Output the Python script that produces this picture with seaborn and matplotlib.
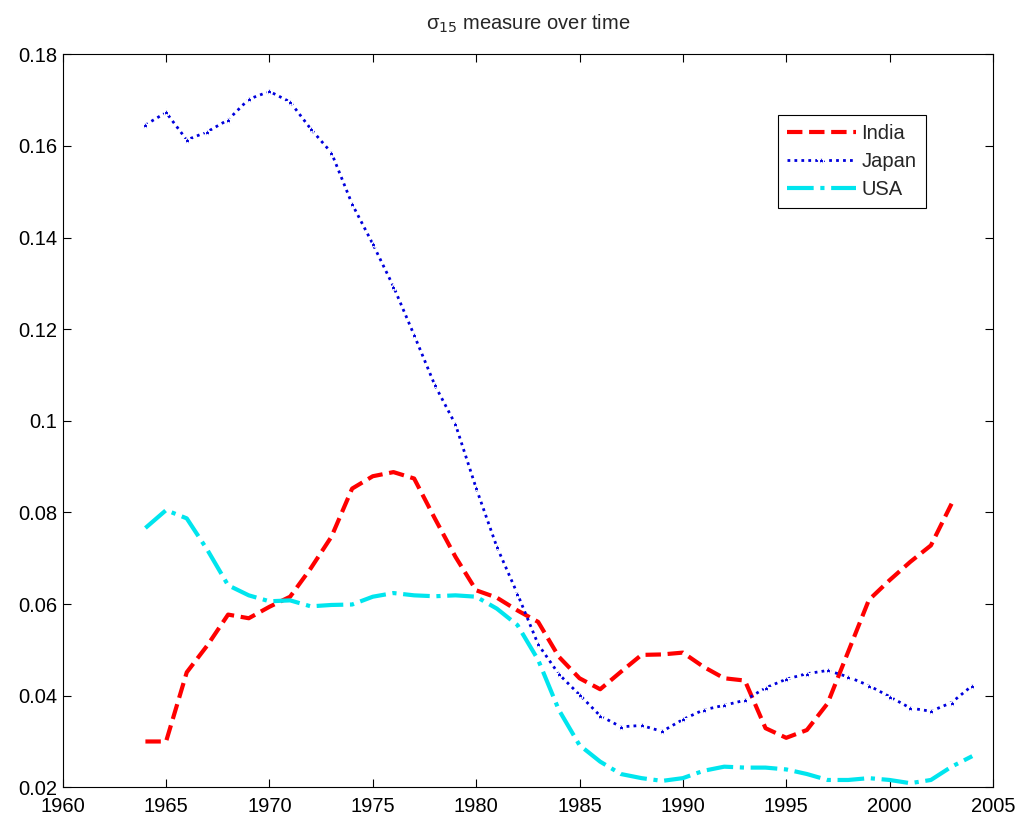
import numpy as np
import pandas as pd
import matplotlib
matplotlib.use("Agg")
import matplotlib.pyplot as plt
import seaborn as sns

# yearly values
years = list(range(1964, 2005))
india = [0.0300, 0.0300, 0.0451, 0.0510, 0.0577, 0.0569, 0.0594, 0.0616, 0.0678, 0.0747,
         0.0852, 0.0879, 0.0888, 0.0874, 0.0787, 0.0703, 0.0630, 0.0614, 0.0586, 0.0561,
         0.0485, 0.0438, 0.0414, 0.0452, 0.0489, 0.0490, 0.0494, 0.0463, 0.0438, 0.0433,
         0.0329, 0.0308, 0.0325, 0.0383, 0.0496, 0.0609, 0.0652, 0.0692, 0.0728, 0.0819]
japan = [0.1646, 0.1673, 0.1613, 0.1631, 0.1657, 0.1702, 0.1719, 0.1696, 0.1637, 0.1585,
         0.1473, 0.1386, 0.1293, 0.1187, 0.1078, 0.0992, 0.0853, 0.0725, 0.0622, 0.0512,
         0.0447, 0.0402, 0.0356, 0.0332, 0.0335, 0.0322, 0.0348, 0.0369, 0.0379, 0.0390,
         0.0417, 0.0436, 0.0448, 0.0455, 0.0441, 0.0422, 0.0398, 0.0373, 0.0366, 0.0385,
         0.0422]
usa = [0.0766, 0.0805, 0.0787, 0.0718, 0.0641, 0.0619, 0.0606, 0.0608, 0.0595, 0.0598,
       0.0599, 0.0616, 0.0624, 0.0619, 0.0617, 0.0619, 0.0616, 0.0590, 0.0554, 0.0478,
       0.0369, 0.0292, 0.0256, 0.0229, 0.0220, 0.0214, 0.0220, 0.0236, 0.0245, 0.0243,
       0.0243, 0.0239, 0.0229, 0.0216, 0.0216, 0.0220, 0.0216, 0.0209, 0.0216, 0.0245,
       0.0268]

sns.set_style("ticks")
plt.rcParams['font.family'] = ['Liberation Sans', 'DejaVu Sans']

fig = plt.figure(figsize=(10.3, 8.25), dpi=100)
ax = fig.add_axes([0.0609, 0.0457, 0.9031, 0.8885])

sns.lineplot(x=years[:len(india)], y=india, ax=ax, color='#ff0000', linestyle='--',
             linewidth=3, label='India')
sns.lineplot(x=years, y=japan, ax=ax, color='#0000dd', linestyle=(0, (1, 1.5)), linewidth=2,
             marker='*', markersize=6, markeredgewidth=0.8, label='Japan')
sns.lineplot(x=years, y=usa, ax=ax, color='#00e5ee', linestyle='-.', linewidth=3,
             label='USA')

ax.set_xlim(1960, 2005)
ax.set_ylim(0.02, 0.18)
ax.set_xticks(range(1960, 2006, 5))
ax.set_yticks(np.arange(0.02, 0.1801, 0.02))
ax.set_yticklabels(['0.02', '0.04', '0.06', '0.08', '0.1', '0.12', '0.14', '0.16', '0.18'])
ax.tick_params(direction='in', top=True, right=True, length=6, width=0.8,
               labelsize=14.5, colors='black')
ax.tick_params(axis='x', pad=7)
ax.tick_params(axis='y', pad=4)
for s in ax.spines.values():
    s.set_visible(True)
    s.set_linewidth(0.8)
    s.set_color('black')

ax.set_title(r'σ$_{15}$ measure over time', fontsize=14.5, pad=18)

leg = ax.legend(loc='upper left', bbox_to_anchor=(0.769, 0.917), fancybox=False,
                edgecolor='black', framealpha=1, fontsize=14.5, handlelength=3.4,
                borderpad=0.45, labelspacing=0.45, handletextpad=0.3, borderaxespad=0)
leg.get_frame().set_linewidth(0.8)

fig.savefig('out.png', dpi=100)
